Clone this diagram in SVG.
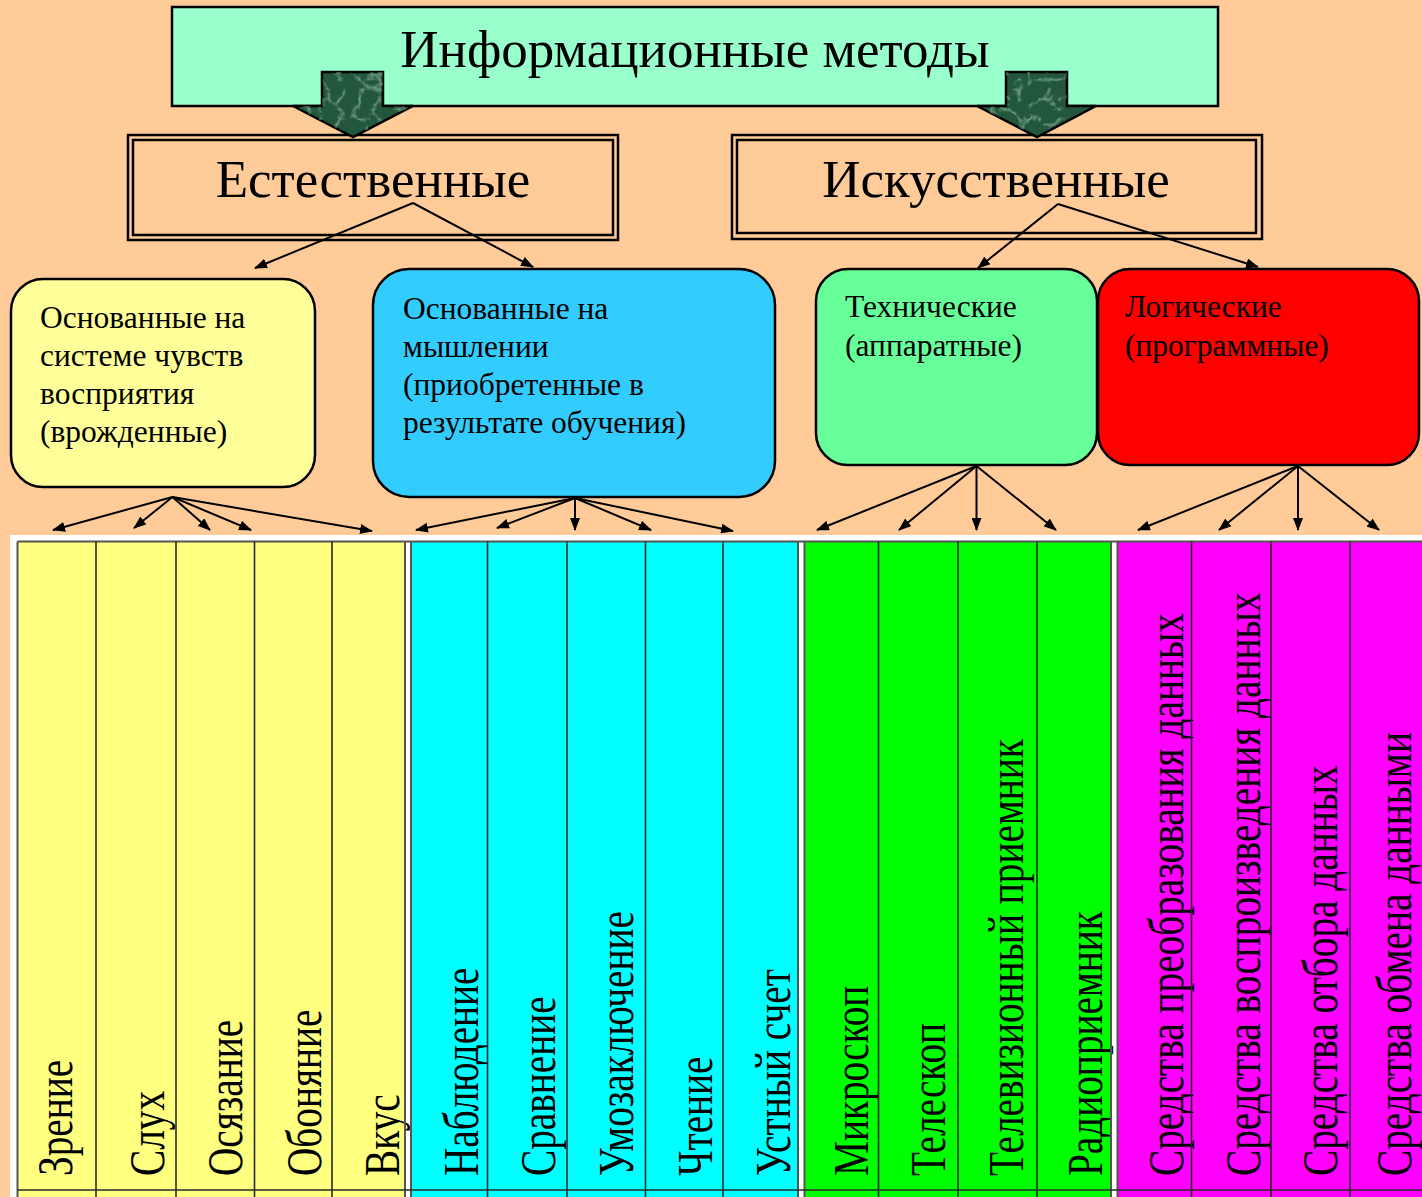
<svg xmlns="http://www.w3.org/2000/svg" width="1422" height="1197" viewBox="0 0 1422 1197">
<defs>
<style>
text{font-family:"Liberation Serif","Times New Roman",serif;fill:#000}
.big{font-size:53px;text-anchor:middle}
.small{font-size:31.5px}
.col{font-size:51px}
.conn line{stroke:#000;stroke-width:2;marker-end:url(#ah)}
.box{stroke:#000;stroke-width:2.5}
.dbl{stroke:#000;stroke-width:2.5;fill:none}
.div{stroke:#2a2a2a;stroke-width:1.6}
.gl{stroke:#555;stroke-width:2}
.bigarrow{fill:#23573b;stroke:#000;stroke-width:2.5;stroke-linejoin:miter}
</style>
<marker id="ah" markerUnits="userSpaceOnUse" markerWidth="13" markerHeight="10" refX="12" refY="5" orient="auto">
<path d="M0,0 L13,5 L0,10 z" fill="#000"/>
</marker>
<filter id="tex" x="0" y="0" width="1" height="1">
<feTurbulence type="turbulence" baseFrequency="0.05" numOctaves="3" seed="11"/>
<feColorMatrix type="matrix" values="0 0 0 0 0.45  0 0 0 0 0.72  0 0 0 0 0.58  -2.2 0 0 0 0.55"/>
<feComposite in2="SourceGraphic" operator="in"/>
</filter>
</defs>
<rect x="0" y="0" width="1422" height="1197" fill="#FFCC99"/>

<g id="title">
<rect class="box" x="172" y="7" width="1046" height="99" fill="#99FFCC" stroke-width="3"/>
<text class="big" x="695" y="67" font-size="54.5">Информационные методы</text>
</g>

<g id="natural">
<rect x="128" y="135" width="490" height="105" fill="#FFCC99" class="dbl"/>
<rect x="133" y="140" width="480" height="95" class="dbl"/>
<text class="big" x="373" y="197">Естественные</text>
</g>

<g id="artificial">
<rect x="732" y="135" width="530" height="104" fill="#FF99FF" class="dbl"/>
<rect x="737" y="140" width="519" height="93" class="dbl"/>
<text class="big" x="996" y="197">Искусственные</text>
</g>

<g id="big-arrows">
<polygon class="bigarrow" points="322,72 383,72 383,106 413,106 353,137 293,106 322,106"/>
<polygon points="322,72 383,72 383,106 413,106 353,137 293,106 322,106" fill="#000" filter="url(#tex)"/>
<polygon class="bigarrow" points="1006,72 1067,72 1067,106 1096,106 1037,137 977,106 1006,106"/>
<polygon points="1006,72 1067,72 1067,106 1096,106 1037,137 977,106 1006,106" fill="#000" filter="url(#tex)"/>
</g>

<g id="sensory">
<rect class="box" x="11" y="279" width="304" height="208" rx="32" fill="#FFFF99"/>
<text class="small" x="40" y="328">Основанные на</text>
<text class="small" x="40" y="366">системе чувств</text>
<text class="small" x="40" y="404">восприятия</text>
<text class="small" x="40" y="442">(врожденные)</text>
</g>

<g id="thinking">
<rect class="box" x="373" y="269" width="402" height="228" rx="36" fill="#33CCFF"/>
<text class="small" x="403" y="319">Основанные на</text>
<text class="small" x="403" y="357">мышлении</text>
<text class="small" x="403" y="395">(приобретенные в</text>
<text class="small" x="403" y="433">результате обучения)</text>
</g>

<g id="technical">
<rect class="box" x="816" y="269" width="281" height="196" rx="32" fill="#66FF99"/>
<text class="small" x="845" y="317">Технические</text>
<text class="small" x="845" y="356">(аппаратные)</text>
</g>

<g id="logical">
<rect class="box" x="1098" y="269" width="321" height="196" rx="32" fill="#FF0000"/>
<text class="small" x="1125" y="317">Логические</text>
<text class="small" x="1125" y="356">(программные)</text>
</g>

<g id="table-frame">
<rect x="10" y="535" width="1412" height="662" fill="#FFFFFF"/>
</g>

<g id="c-zrenie"><rect x="17.5" y="541.5" width="387.5" height="656" fill="#FFFF80"/>
<text class="col" transform="translate(72,1176) rotate(-90) scale(0.77,1)">Зрение</text></g>
<g id="c-sluh"><text class="col" transform="translate(164,1176) rotate(-90) scale(0.77,1)">Слух</text></g>
<g id="c-osyazanie"><text class="col" transform="translate(242,1176) rotate(-90) scale(0.77,1)">Осязание</text></g>
<g id="c-obonyanie"><text class="col" transform="translate(321,1176) rotate(-90) scale(0.77,1)">Обоняние</text></g>
<g id="c-vkus"><text class="col" transform="translate(399,1176) rotate(-90) scale(0.77,1)">Вкус</text></g>

<g id="c-nablyudenie"><rect x="411.5" y="541.5" width="386.5" height="656" fill="#00FFFF"/>
<text class="col" transform="translate(478,1176) rotate(-90) scale(0.77,1)">Наблюдение</text></g>
<g id="c-sravnenie"><text class="col" transform="translate(555,1176) rotate(-90) scale(0.77,1)">Сравнение</text></g>
<g id="c-umozaklyuchenie"><text class="col" transform="translate(633,1176) rotate(-90) scale(0.77,1)">Умозаключение</text></g>
<g id="c-chtenie"><text class="col" transform="translate(712,1176) rotate(-90) scale(0.77,1)">Чтение</text></g>
<g id="c-ustny"><text class="col" transform="translate(790,1176) rotate(-90) scale(0.77,1)">Устный счет</text></g>

<g id="c-mikroskop"><rect x="804.5" y="541.5" width="306.5" height="656" fill="#00FF00"/>
<text class="col" transform="translate(868,1176) rotate(-90) scale(0.77,1)">Микроскоп</text></g>
<g id="c-teleskop"><text class="col" transform="translate(945,1176) rotate(-90) scale(0.77,1)">Телескоп</text></g>
<g id="c-tv"><text class="col" transform="translate(1023,1176) rotate(-90) scale(0.77,1)">Телевизионный приемник</text></g>
<g id="c-radio"><text class="col" transform="translate(1102,1176) rotate(-90) scale(0.77,1)">Радиоприемник</text></g>

<g id="c-preobr"><rect x="1117.5" y="541.5" width="304.5" height="656" fill="#FF00FF"/>
<text class="col" transform="translate(1183,1176) rotate(-90) scale(0.77,1)">Средства преобразования данных</text></g>
<g id="c-vosproizv"><text class="col" transform="translate(1260,1176) rotate(-90) scale(0.77,1)">Средства воспроизведения данных</text></g>
<g id="c-otbor"><text class="col" transform="translate(1337,1176) rotate(-90) scale(0.77,1)">Средства отбора данных</text></g>
<g id="c-obmen"><text class="col" transform="translate(1411,1176) rotate(-90) scale(0.77,1)">Средства обмена данными</text></g>

<g id="grid">
<line class="gl" x1="17.5" y1="541.5" x2="1422" y2="541.5"/>
<line class="gl" x1="17.5" y1="541.5" x2="17.5" y2="1197"/>
<line class="gl" x1="405" y1="541.5" x2="405" y2="1197"/>
<line class="gl" x1="411" y1="541.5" x2="411" y2="1197"/>
<line class="gl" x1="798" y1="541.5" x2="798" y2="1197"/>
<line class="gl" x1="804.5" y1="541.5" x2="804.5" y2="1197"/>
<line class="gl" x1="1111" y1="541.5" x2="1111" y2="1197"/>
<line class="gl" x1="1117.5" y1="541.5" x2="1117.5" y2="1197"/>
<line class="div" x1="96" y1="541.5" x2="96" y2="1197"/>
<line class="div" x1="176" y1="541.5" x2="176" y2="1197"/>
<line class="div" x1="254.5" y1="541.5" x2="254.5" y2="1197"/>
<line class="div" x1="332" y1="541.5" x2="332" y2="1197"/>
<line class="div" x1="487.5" y1="541.5" x2="487.5" y2="1197"/>
<line class="div" x1="567" y1="541.5" x2="567" y2="1197"/>
<line class="div" x1="645.5" y1="541.5" x2="645.5" y2="1197"/>
<line class="div" x1="723" y1="541.5" x2="723" y2="1197"/>
<line class="div" x1="878.5" y1="541.5" x2="878.5" y2="1197"/>
<line class="div" x1="958" y1="541.5" x2="958" y2="1197"/>
<line class="div" x1="1037" y1="541.5" x2="1037" y2="1197"/>
<line class="div" x1="1191.5" y1="541.5" x2="1191.5" y2="1197" stroke="#4a004a"/>
<line class="div" x1="1271" y1="541.5" x2="1271" y2="1197" stroke="#4a004a"/>
<line class="div" x1="1350" y1="541.5" x2="1350" y2="1197" stroke="#4a004a"/>
<line class="div" x1="17.5" y1="1190" x2="1422" y2="1190"/>
</g>

<g id="connectors" class="conn">
<line x1="413" y1="203" x2="255" y2="268"/>
<line x1="413" y1="203" x2="533" y2="267"/>
<line x1="1058" y1="204" x2="978" y2="268"/>
<line x1="1058" y1="204" x2="1258" y2="267"/>
<line x1="172.5" y1="497" x2="53" y2="530"/>
<line x1="172.5" y1="497" x2="134" y2="528"/>
<line x1="172.5" y1="497" x2="210" y2="530"/>
<line x1="172.5" y1="497" x2="251" y2="530"/>
<line x1="172.5" y1="497" x2="372" y2="531"/>
<line x1="575" y1="498" x2="416" y2="530"/>
<line x1="575" y1="498" x2="497" y2="528"/>
<line x1="575" y1="498" x2="575" y2="530"/>
<line x1="575" y1="498" x2="651" y2="530"/>
<line x1="575" y1="498" x2="733" y2="531"/>
<line x1="976.5" y1="466" x2="817" y2="530"/>
<line x1="976.5" y1="466" x2="899" y2="530"/>
<line x1="976.5" y1="466" x2="976.5" y2="530"/>
<line x1="976.5" y1="466" x2="1056" y2="530"/>
<line x1="1298" y1="466" x2="1138" y2="530"/>
<line x1="1298" y1="466" x2="1219" y2="530"/>
<line x1="1298" y1="466" x2="1298" y2="530"/>
<line x1="1298" y1="466" x2="1379" y2="530"/>
</g>
</svg>
